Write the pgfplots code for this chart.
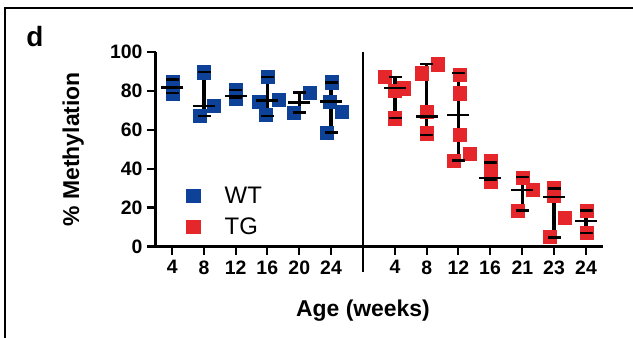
\documentclass[border=0pt]{standalone}
\usepackage{pgfplots}
\pgfplotsset{compat=1.18}
\usepackage{fontspec}
\setmainfont{Liberation Sans}
\definecolor{wtblue}{RGB}{14,66,152}
\definecolor{tgred}{RGB}{229,38,43}
\begin{document}
\begin{tikzpicture}
\path[use as bounding box] (0,0) rectangle (633bp,338bp);
\draw[line width=2bp] (5bp,0bp) -- (5bp,330bp) -- (633bp,330bp);
\node[font=\fontsize{28}{28}\selectfont\bfseries] at (35bp,301bp) {d};
\begin{axis}[
  at={(155.5bp,91.5bp)}, anchor=south west,
  scale only axis, width=447.5bp, height=194.5bp,
  xmin=155.5, xmax=603, ymin=0, ymax=100,
  clip=false,
  axis lines=left,
  axis line style={-, line width=2.2bp},
  every tick/.style={line width=2.2bp, black},
  tick align=outside,
  major tick length=8.5bp,
  unbounded coords=jump,
  xtick={172.3,204,235.7,267.3,299.3,331,395,426.7,458.3,490,522.3,554,586},
  xticklabels={4,8,12,16,20,24,4,8,12,16,21,23,24},
  ytick={0,20,40,60,80,100},
  /pgf/number format/assume math mode=true,
  ticklabel style={font=\fontsize{19.5}{19.5}\selectfont\bfseries},
  xticklabel style={yshift=-2bp},
  yticklabel style={xshift=-1bp},
  xlabel={Age (weeks)},
  ylabel={\% Methylation},
  label style={font=\fontsize{23}{23}\selectfont\bfseries},
  xlabel style={at={(axis description cs:0.4637,-0.33)}, anchor=center},
  ylabel style={at={(axis description cs:-0.184,0.5)}, anchor=center, rotate=0},
  legend style={draw=none, fill=none, font=\fontsize{24}{24}\selectfont,
    at={(axis cs:181.5,3.3)}, anchor=south west, row sep=9bp},
  legend cell align=left,
  legend image code/.code={\path[draw=none,fill=none] (-8.5bp,0bp) rectangle (29.5bp,0.1bp); \draw[#1] plot coordinates {(0bp,0bp)};},
]
\addplot[only marks, mark=square*, mark size=6.6bp, mark options={draw=wtblue, fill=wtblue, line width=0.3bp}]
coordinates {
(172.7,84.8) (172.7,78.8)
(204,89.6) (199.3,67.2) (214,72.3)
(236,80.5) (236,76.3)
(267.7,87.3) (258.3,74.5) (278.3,75.4) (266,67.7)
(294,68.9) (310,79.1)
(331.7,84.5) (330,74.5) (341.7,69.4) (326.7,58.6)
};
\addlegendentry{WT}
\addplot[only marks, mark=square*, mark size=6.6bp, mark options={draw=tgred, fill=tgred, line width=0.3bp}]
coordinates {
(385,87.3) (403.3,81.4) (395,80) (395,66.0)
(421.7,89.1) (437.7,93.8) (426.7,69.4) (426.7,58.3)
(459.3,88.2) (459.3,78.8) (459.3,57.4) (454,44.3) (470,47.7)
(490.7,44.3) (490.7,38) (490.7,33.5)
(522.3,35.2) (532.7,29.2) (517.3,18.6)
(554,30.0) (554,26) (565,14.7) (549.3,4.9)
(586.7,18.6) (586.7,7.0)
};
\addlegendentry{TG}
% whiskers (range)
\addplot[forget plot, draw=black, line width=3.3bp, mark=none, solid]
coordinates {
(172.3,78.8) (172.3,85.9) (172.3,nan)
(204,67.2) (204,89.6) (204,nan)
(235.7,76.3) (235.7,80.5) (235.7,nan)
(267.3,67.2) (267.3,87.3) (267.3,nan)
(299.3,68.9) (299.3,79.1) (299.3,nan)
(331,58.6) (331,84.3) (331,nan)
(395,66.0) (395,87.0) (395,nan)
(426.7,57.4) (426.7,93.8) (426.7,nan)
(458.3,44.3) (458.3,89.1) (458.3,nan)
(490,34.4) (490,43.2) (490,nan)
(522.3,18.5) (522.3,35.6) (522.3,nan)
(554,4.7) (554,29.9) (554,nan)
(586,7.0) (586,18.5)
};
% whisker caps
\addplot[forget plot, only marks, mark=-, mark size=6.5bp, mark options={line width=2.4bp, draw=black}]
coordinates {
(172.3,78.8) (172.3,85.9)
(204,67.2) (204,89.6)
(235.7,76.3) (235.7,80.5)
(267.3,67.2) (267.3,87.3)
(299.3,68.9) (299.3,79.1)
(331,58.6) (331,84.3)
(395,66.0) (395,87.0)
(426.7,57.4) (426.7,93.8)
(458.3,44.3) (458.3,89.1)
(490,34.4) (490,43.2)
(522.3,18.5) (522.3,35.6)
(554,4.7) (554,29.9)
(586,7.0) (586,18.5)
};
% medians
\addplot[forget plot, only marks, mark=-, mark size=11bp, mark options={line width=2.4bp, draw=black}]
coordinates {
(172.3,81.7) (204,72.3) (235.7,77.4) (267.3,75.0) (299.3,74.0) (331,74.5)
(395,81.4) (426.7,66.8) (458.3,67.7) (490,35.2) (522.3,29.2) (554,25.5) (586,13.0)
};
\end{axis}
\draw[line width=2.2bp] (363.3bp,286bp) -- (363.3bp,65.5bp);
\end{tikzpicture}
\end{document}
